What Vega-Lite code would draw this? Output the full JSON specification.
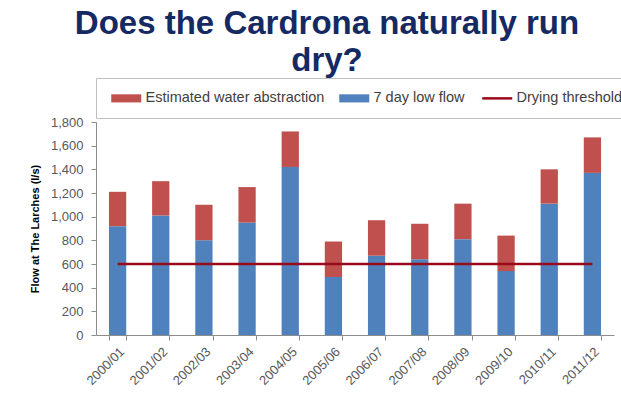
{
  "$schema": "https://vega.github.io/schema/vega-lite/v6.json",
  "autosize": {"type": "none"},
  "width": 518,
  "height": 213,
  "padding": {"left": 96, "top": 122, "right": 7, "bottom": 60},
  "background": "white",
  "title": {
    "text": ["Does the Cardrona naturally run", "dry?"],
    "font": "Liberation Sans",
    "fontSize": 33,
    "fontWeight": "bold",
    "color": "#152a63",
    "lineHeight": 37,
    "anchor": "middle",
    "frame": "bounds",
    "dx": -6,
    "offset": 0
  },
  "config": {
    "view": {"stroke": null},
    "font": "Liberation Sans",
    "axisY": {
      "titleFont": "Liberation Sans",
      "titleFontSize": 11,
      "titleFontWeight": "bold",
      "titleColor": "#000000",
      "titlePadding": 10,
      "grid": false,
      "labelFont": "Liberation Sans",
      "labelFontSize": 13,
      "labelColor": "#595959",
      "labelPadding": 8,
      "domainColor": "#8c8c8c",
      "tickColor": "#8c8c8c",
      "tickSize": 5
    }
  },
  "data": {
    "values": [
      {"year": "2000/01", "series": "7 day low flow", "value": 920},
      {"year": "2000/01", "series": "Estimated water abstraction", "value": 290},
      {"year": "2001/02", "series": "7 day low flow", "value": 1010},
      {"year": "2001/02", "series": "Estimated water abstraction", "value": 290},
      {"year": "2002/03", "series": "7 day low flow", "value": 800},
      {"year": "2002/03", "series": "Estimated water abstraction", "value": 300},
      {"year": "2003/04", "series": "7 day low flow", "value": 950},
      {"year": "2003/04", "series": "Estimated water abstraction", "value": 300},
      {"year": "2004/05", "series": "7 day low flow", "value": 1420},
      {"year": "2004/05", "series": "Estimated water abstraction", "value": 300},
      {"year": "2005/06", "series": "7 day low flow", "value": 490},
      {"year": "2005/06", "series": "Estimated water abstraction", "value": 300},
      {"year": "2006/07", "series": "7 day low flow", "value": 670},
      {"year": "2006/07", "series": "Estimated water abstraction", "value": 300},
      {"year": "2007/08", "series": "7 day low flow", "value": 640},
      {"year": "2007/08", "series": "Estimated water abstraction", "value": 300},
      {"year": "2008/09", "series": "7 day low flow", "value": 810},
      {"year": "2008/09", "series": "Estimated water abstraction", "value": 300},
      {"year": "2009/10", "series": "7 day low flow", "value": 540},
      {"year": "2009/10", "series": "Estimated water abstraction", "value": 300},
      {"year": "2010/11", "series": "7 day low flow", "value": 1110},
      {"year": "2010/11", "series": "Estimated water abstraction", "value": 290},
      {"year": "2011/12", "series": "7 day low flow", "value": 1370},
      {"year": "2011/12", "series": "Estimated water abstraction", "value": 300}
    ]
  },
  "encoding": {
    "x": {
      "field": "year",
      "type": "nominal",
      "sort": null,
      "scale": {"paddingInner": 0.6, "paddingOuter": 0.3},
      "axis": {
        "title": null,
        "labelAngle": -45,
        "labelFont": "Liberation Sans",
        "labelFontSize": 13,
        "labelColor": "#595959",
        "domainColor": "#8c8c8c",
        "tickColor": "#8c8c8c",
        "tickBand": "extent",
        "tickSize": 5,
        "labelPadding": 5
      }
    }
  },
  "layer": [
    {
      "mark": {"type": "bar"},
      "encoding": {
        "y": {
          "field": "value",
          "type": "quantitative",
          "stack": "zero",
          "scale": {"domain": [0, 1800], "nice": false},
          "axis": {
            "title": "Flow at The Larches (l/s)",
            "values": [0, 200, 400, 600, 800, 1000, 1200, 1400, 1600, 1800],
            "format": ",.0f"
          }
        },
        "color": {
          "field": "series",
          "type": "nominal",
          "scale": {
            "domain": ["Estimated water abstraction", "7 day low flow", "Drying threshold"],
            "range": ["#c0504d", "#4f81bd", "#9b0a1a"]
          },
          "legend": {
            "title": null,
            "orient": "top",
            "direction": "horizontal",
            "offset": 4,
            "padding": 13,
            "strokeColor": "#bfbfbf",
            "fillColor": "white",
            "labelFont": "Liberation Sans",
            "labelFontSize": 14.5,
            "labelColor": "#404040",
            "labelOffset": 12,
            "labelLimit": 400,
            "columnPadding": 12,
            "symbolOffset": 10,
            "symbolSize": 900,
            "symbolType": "M-1,-0.27H1V0.27H-1Z",
            "encode": {
              "symbols": {
                "update": {
                  "shape": {"signal": "datum.value === 'Drying threshold' ? 'stroke' : 'M-1,-0.27H1V0.27H-1Z'"},
                  "fill": {"signal": "datum.value === 'Drying threshold' ? 'transparent' : scale('color', datum.value)"},
                  "stroke": {"signal": "scale('color', datum.value)"},
                  "strokeWidth": {"signal": "datum.value === 'Drying threshold' ? 2.5 : 0"},
                  "opacity": {"value": 1}
                }
              }
            }
          }
        },
        "order": {"field": "series", "sort": "ascending"}
      }
    },
    {
      "transform": [{"filter": "datum.series === '7 day low flow'"}],
      "mark": {"type": "line", "strokeWidth": 2.5},
      "encoding": {
        "y": {
          "datum": 600,
          "type": "quantitative",
          "axis": {
            "title": "Flow at The Larches (l/s)",
            "values": [0, 200, 400, 600, 800, 1000, 1200, 1400, 1600, 1800],
            "format": ",.0f"
          }
        },
        "color": {"datum": "Drying threshold"}
      }
    }
  ]
}
